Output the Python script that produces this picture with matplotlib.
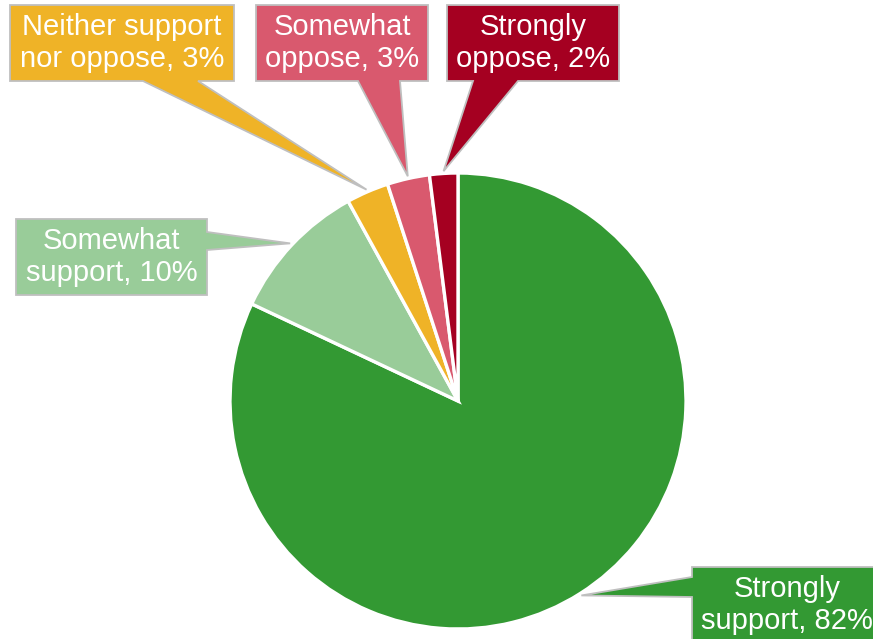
import numpy as np
import matplotlib
matplotlib.use("Agg")
import matplotlib.pyplot as plt
from matplotlib.patches import Polygon

# ---- data ----
categories = ["Strongly support", "Somewhat support", "Neither support nor oppose",
              "Somewhat oppose", "Strongly oppose"]
values = [82, 10, 3, 3, 2]
label_texts = ["Strongly\nsupport, 82%", "Somewhat\nsupport, 10%",
               "Neither support\nnor oppose, 3%", "Somewhat\noppose, 3%",
               "Strongly\noppose, 2%"]
colors = ["#339933", "#99CC99", "#EFB327", "#D9596E", "#A50021"]

W, H = 873, 639
fig = plt.figure(figsize=(W / 100, H / 100), dpi=100)
ax = fig.add_axes([0, 0, 1, 1])

cx, cy_top, R = 458, 401, 228
center = (cx, H - cy_top)
wedges, _ = ax.pie(values, colors=colors, startangle=90, counterclock=False,
                   center=center, radius=R,
                   wedgeprops=dict(edgecolor="white", linewidth=2.4))
ax.set_xlim(0, W)
ax.set_ylim(0, H)
ax.set_aspect("equal")
ax.axis("off")

# callout layout: box (x0, y0, x1, y1) in top-down pixels, side, base range
layout = [
    ((692, 567, 882, 643), "left", (577, 597)),
    ((16, 219, 207, 295), "right", (232, 250)),
    ((10, 5, 234, 81), "bottom", (143, 198)),
    ((256, 5, 428, 81), "bottom", (358, 400)),
    ((447, 5, 619, 81), "bottom", (473, 518)),
]

def Y(y):
    return H - y

for w, txt, col, (box, side, base) in zip(wedges, label_texts, colors, layout):
    mid = np.deg2rad((w.theta1 + w.theta2) / 2)
    tip = (cx + 1.01 * R * np.cos(mid), Y(cy_top) + 1.01 * R * np.sin(mid))
    x0, y0, x1, y1 = box
    a, b = base
    if side == "bottom":
        pts = [(x0, y0), (x1, y0), (x1, y1), (b, y1), None, (a, y1), (x0, y1)]
    elif side == "right":
        pts = [(x0, y0), (x1, y0), (x1, a), None, (x1, b), (x1, y1), (x0, y1)]
    else:
        pts = [(x0, y0), (x1, y0), (x1, y1), (x0, y1), (x0, b), None, (x0, a)]
    verts = [tip if p is None else (p[0], Y(p[1])) for p in pts]
    ax.add_patch(Polygon(verts, closed=True, facecolor=col, edgecolor="#BFBFBF",
                         linewidth=1.3, joinstyle="miter", zorder=5))
    ax.text((x0 + x1) / 2, Y((y0 + y1) / 2), txt, ha="center", va="center",
            color="white", fontsize=21, family=["Liberation Sans", "DejaVu Sans"],
            linespacing=1.22, zorder=6)

fig.savefig("out.png", dpi=100)
